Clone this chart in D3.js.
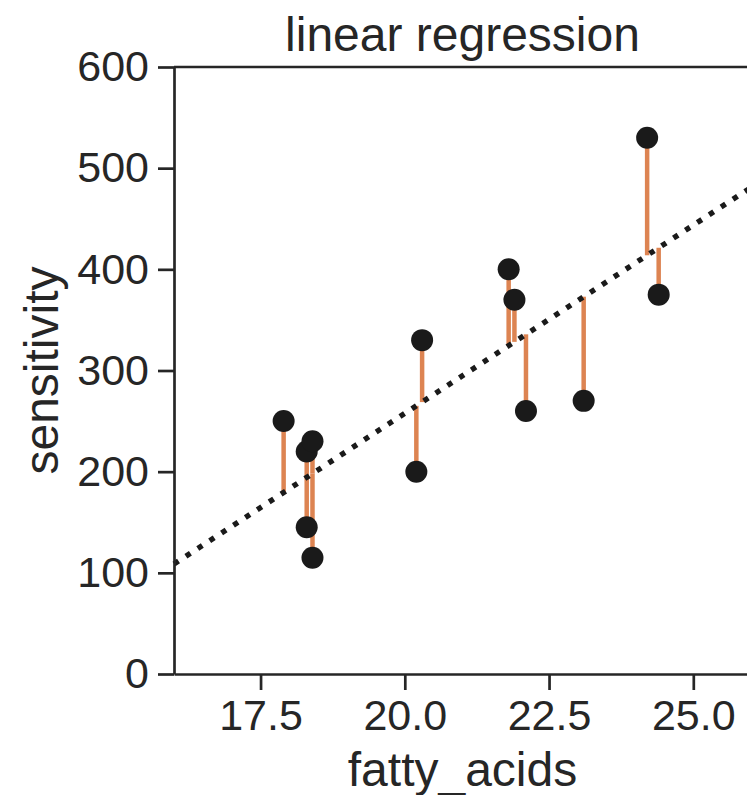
<html>

<head>
    <title>linear regression</title>
    <script src='https://d3js.org/d3.v7.min.js'></script>
    <style>
        body { margin: 0; background: #fff; }
        text { font-family: "Liberation Sans", Arial, sans-serif; fill: #262626; }
        .axis path, .axis line { stroke: #262626; stroke-width: 2.7; }
        .axis text { font-size: 43px; fill: #262626; }
    </style>
</head>

<body>
    <svg id="chart"></svg>
    <script>
        var fattyAcids = [17.9, 18.3, 18.4, 18.3, 18.4, 20.2, 20.3, 21.8, 21.9, 22.1, 23.1, 24.2, 24.4];
        var sensitivity = [250, 220, 230, 145, 115, 200, 330, 400, 370, 260, 270, 530, 375];
        var xTicks = [17.5, 20.0, 22.5, 25.0];
        var yTicks = [0, 100, 200, 300, 400, 500, 600];

        var width = 747, height = 795;
        var mLeft = 174, mRight = 751, mTop = 67, mBottom = 674;

        var x = d3.scaleLinear().domain([16, 26]).range([mLeft, mRight]);
        var y = d3.scaleLinear().domain([0, 600]).range([mBottom, mTop]);

        // least squares fit
        var mx = d3.mean(fattyAcids), my = d3.mean(sensitivity);
        var sxy = d3.sum(fattyAcids, function (v, i) { return (v - mx) * (sensitivity[i] - my); });
        var sxx = d3.sum(fattyAcids, function (v) { return (v - mx) * (v - mx); });
        var slope = sxy / sxx, intercept = my - slope * mx;
        function fit(v) { return intercept + slope * v; }

        var data = fattyAcids.map(function (v, i) { return { x: v, y: sensitivity[i] }; });

        var svg = d3.select("#chart").attr("width", width).attr("height", height);

        var plot = svg.append("g");

        // residuals
        plot.selectAll("line.res")
            .data(data)
            .enter()
            .append("line")
            .attr("class", "res")
            .attr("x1", function (d) { return x(d.x); })
            .attr("x2", function (d) { return x(d.x); })
            .attr("y1", function (d) { return y(d.y); })
            .attr("y2", function (d) { return y(fit(d.x)); })
            .attr("stroke", "#dd8452")
            .attr("stroke-width", 4.5);

        // regression line
        plot.append("line")
            .attr("x1", x(16)).attr("y1", y(fit(16)))
            .attr("x2", x(26)).attr("y2", y(fit(26)))
            .attr("stroke", "#1a1a1a")
            .attr("stroke-width", 5.4)
            .attr("stroke-dasharray", "5.4,8.8");

        // points
        plot.selectAll("circle")
            .data(data)
            .enter()
            .append("circle")
            .attr("cx", function (d) { return x(d.x); })
            .attr("cy", function (d) { return y(d.y); })
            .attr("r", 11)
            .attr("fill", "#1a1a1a");

        svg.append("g")
            .attr("class", "axis")
            .attr("transform", "translate(" + mLeft + ",0)")
            .call(d3.axisLeft(y).tickValues(yTicks).tickSize(16).tickPadding(9).tickSizeOuter(0));

        svg.append("g")
            .attr("class", "axis")
            .attr("transform", "translate(0," + mBottom + ")")
            .call(d3.axisBottom(x).tickValues(xTicks).tickFormat(d3.format(".1f")).tickSize(16).tickPadding(9).tickSizeOuter(0));

        // top spine
        svg.append("line")
            .attr("x1", mLeft).attr("x2", mRight)
            .attr("y1", mTop).attr("y2", mTop)
            .attr("stroke", "#262626").attr("stroke-width", 2.7);

        svg.append("text")
            .attr("x", (mLeft + mRight) / 2).attr("y", 51)
            .attr("text-anchor", "middle")
            .style("font-size", "48px")
            .text("linear regression");

        svg.append("text")
            .attr("x", (mLeft + mRight) / 2).attr("y", 786)
            .attr("text-anchor", "middle")
            .style("font-size", "48px")
            .text("fatty_acids");

        svg.append("text")
            .attr("transform", "translate(58," + (mTop + mBottom) / 2 + ") rotate(-90)")
            .attr("text-anchor", "middle")
            .style("font-size", "48px")
            .text("sensitivity");
    </script>
</body>

</html>
